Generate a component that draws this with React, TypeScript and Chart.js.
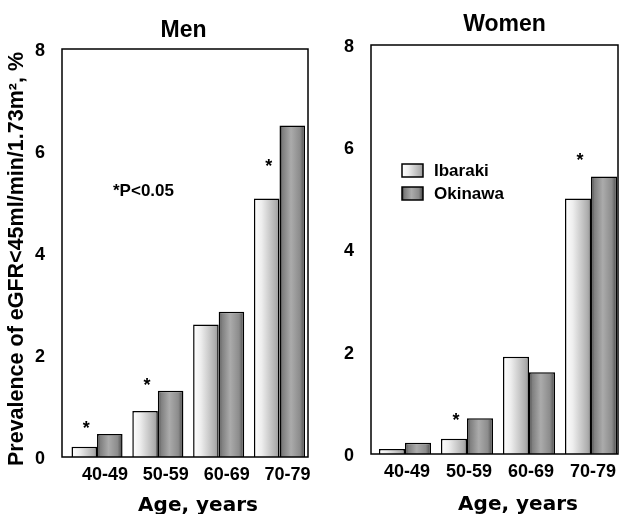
import React, { useEffect, useRef } from 'react';
import { Chart, registerables } from 'chart.js';

Chart.register(...registerables);

// ---- data ----
const ageGroups = ['40-49', '50-59', '60-69', '70-79'];
const seriesNames = ['Ibaraki', 'Okinawa'];
const menIbaraki = [0.2, 0.9, 2.6, 5.07];
const menOkinawa = [0.45, 1.3, 2.85, 6.5];
const womenIbaraki = [0.1, 0.3, 1.9, 5.0];
const womenOkinawa = [0.22, 0.7, 1.6, 5.43];
const menStarLevels = [0.65, 1.5, null, 5.8];
const womenStarLevels = [null, 0.76, null, 5.84];
const yTicks = [0, 2, 4, 6, 8];
const yTitle = 'Prevalence of eGFR<45ml/min/1.73m\u00B2, %';
const xTitle = 'Age, years';
const noteText = '*P<0.05';

const SANS = '"Liberation Sans", Arial, Helvetica, sans-serif';
const WIDE = '"DejaVu Sans", Verdana, sans-serif';
const H = 514;

function makeGrad(ctx: CanvasRenderingContext2D, x0: number, x1: number, kind: number) {
  const g = ctx.createLinearGradient(x0, 0, x1, 0);
  if (kind === 0) {
    g.addColorStop(0, '#ffffff');
    g.addColorStop(0.3, '#eeeeee');
    g.addColorStop(0.85, '#b0b0b0');
    g.addColorStop(1, '#959595');
  } else {
    g.addColorStop(0, '#343434');
    g.addColorStop(0.12, '#7e7e7e');
    g.addColorStop(0.45, '#ababab');
    g.addColorStop(0.8, '#8c8c8c');
    g.addColorStop(1, '#464646');
  }
  return g;
}

type Panel = {
  left: number;
  width: number;
  area: { left: number; right: number; top: number; bottom: number };
  xMin: number;
  xMax: number;
  labelOffset: number;
  ibaraki: number[];
  okinawa: number[];
  stars: (number | null)[];
  title: string;
  titlePos: [number, number];
  xTitlePos: [number, number];
  showYTitle: boolean;
  yTitlePos: [number, number];
  note: boolean;
  notePos: [number, number];
  legend: boolean;
  legendPos: [number, number];
};

const panels: Panel[] = [
  {
    left: 0,
    width: 312,
    area: { left: 62, right: 308, top: 49, bottom: 457 },
    xMin: -0.576,
    xMax: 3.469,
    labelOffset: 8,
    ibaraki: menIbaraki,
    okinawa: menOkinawa,
    stars: menStarLevels,
    title: 'Men',
    titlePos: [183.5, 37],
    xTitlePos: [198, 511],
    showYTitle: true,
    yTitlePos: [17, 259],
    note: true,
    notePos: [113, 191],
    legend: false,
    legendPos: [0, 0],
  },
  {
    left: 312,
    width: 308,
    area: { left: 59, right: 306, top: 45, bottom: 454 },
    xMin: -0.548,
    xMax: 3.435,
    labelOffset: 2,
    ibaraki: womenIbaraki,
    okinawa: womenOkinawa,
    stars: womenStarLevels,
    title: 'Women',
    titlePos: [192.5, 30.5],
    xTitlePos: [206, 510],
    showYTitle: false,
    yTitlePos: [0, 0],
    note: false,
    notePos: [0, 0],
    legend: true,
    legendPos: [90, 164],
  },
];

function PanelChart({ p }: { p: Panel }) {
  const ref = useRef<HTMLCanvasElement | null>(null);
  useEffect(() => {
    const canvas = ref.current;
    if (!canvas) return;
    const decorate = {
      id: 'decorate',
      beforeDatasetsDraw(chart: any) {
        const ctx = chart.ctx as CanvasRenderingContext2D;
        chart.data.datasets.forEach((_: any, di: number) => {
          const meta = chart.getDatasetMeta(di);
          meta.data.forEach((el: any) => {
            const x0 = el.x - el.width / 2;
            const x1 = el.x + el.width / 2;
            el.options.backgroundColor = makeGrad(ctx, x0, x1, di);
          });
        });
      },
      afterDatasetsDraw(chart: any) {
        const ctx = chart.ctx as CanvasRenderingContext2D;
        const a = chart.chartArea;
        const ys = chart.scales.y;
        ctx.save();
        // frame
        ctx.strokeStyle = '#000';
        ctx.lineWidth = 1.5;
        ctx.strokeRect(a.left, a.top, a.right - a.left, a.bottom - a.top);
        // significance stars
        const meta0 = chart.getDatasetMeta(0);
        ctx.fillStyle = '#000';
        ctx.font = `bold 18px ${SANS}`;
        ctx.textAlign = 'center';
        ctx.textBaseline = 'alphabetic';
        p.stars.forEach((lvl, i) => {
          if (lvl === null) return;
          const el = meta0.data[i];
          const y = ys.getPixelForValue(lvl);
          ctx.fillText('*', el.x + 2, y + 10.5);
        });
        // titles
        ctx.font = `bold 23px ${SANS}`;
        ctx.fillText(p.title, p.titlePos[0], p.titlePos[1]);
        ctx.font = `bold 20px ${WIDE}`;
        ctx.fillText(xTitle, p.xTitlePos[0], p.xTitlePos[1]);
        if (p.showYTitle) {
          ctx.save();
          ctx.translate(p.yTitlePos[0], p.yTitlePos[1]);
          ctx.rotate(-Math.PI / 2);
          ctx.font = `bold 21.5px ${SANS}`;
          ctx.textBaseline = 'middle';
          ctx.fillText(yTitle, 0, 0);
          ctx.restore();
        }
        if (p.note) {
          ctx.font = `bold 17px ${SANS}`;
          ctx.textAlign = 'left';
          ctx.textBaseline = 'middle';
          ctx.fillText(noteText, p.notePos[0], p.notePos[1]);
        }
        if (p.legend) {
          const [lx, ly] = p.legendPos;
          seriesNames.forEach((name, k) => {
            const by = ly + k * 23;
            ctx.fillStyle = makeGrad(ctx, lx, lx + 21, k);
            ctx.fillRect(lx, by, 21, 13);
            ctx.strokeStyle = '#000';
            ctx.lineWidth = 1.5;
            ctx.strokeRect(lx, by, 21, 13);
            ctx.fillStyle = '#000';
            ctx.font = `bold 17px ${SANS}`;
            ctx.textAlign = 'left';
            ctx.textBaseline = 'middle';
            ctx.fillText(name, lx + 32, by + 7.5);
          });
        }
        ctx.restore();
      },
    };
    const chart = new Chart(canvas, {
      type: 'bar',
      data: {
        datasets: [
          {
            label: seriesNames[0],
            data: p.ibaraki.map((v, i) => ({ x: i, y: v })),
            backgroundColor: () => '#dddddd',
            borderColor: '#000',
            borderWidth: 1.5,
            categoryPercentage: 0.84,
            barPercentage: 1.0,
          },
          {
            label: seriesNames[1],
            data: p.okinawa.map((v, i) => ({ x: i, y: v })),
            backgroundColor: () => '#999999',
            borderColor: '#000',
            borderWidth: 1.5,
            categoryPercentage: 0.84,
            barPercentage: 1.0,
          },
        ],
      },
      options: {
        animation: false,
        responsive: false,
        maintainAspectRatio: false,
        layout: {
          padding: {
            left: 0,
            top: p.area.top,
            right: p.width - p.area.right,
            bottom: 0,
          },
        },
        plugins: {
          legend: { display: false },
          title: { display: false },
          tooltip: { enabled: false },
        },
        scales: {
          x: {
            type: 'linear',
            offset: false,
            bounds: 'data',
            min: p.xMin,
            max: p.xMax,
            grid: { display: false },
            border: { display: false },
            afterBuildTicks: (s: any) => {
              s.ticks = ageGroups.map((_, i) => ({ value: i }));
            },
            afterFit: (s: any) => {
              s.height = H - p.area.bottom;
            },
            ticks: {
              autoSkip: false,
              maxRotation: 0,
              padding: -1,
              labelOffset: p.labelOffset,
              color: '#000',
              font: { family: SANS, size: 18, weight: 'bold' },
              callback: (v: any) => ageGroups[v as number] ?? '',
            },
          },
          y: {
            min: 0,
            max: 8,
            grid: { display: false },
            border: { display: false },
            afterBuildTicks: (s: any) => {
              s.ticks = yTicks.map((v) => ({ value: v }));
            },
            afterFit: (s: any) => {
              s.width = p.area.left;
            },
            ticks: {
              padding: 9,
              labelOffset: 2,
              color: '#000',
              font: { family: SANS, size: 18, weight: 'bold' },
            },
          },
        },
      },
      plugins: [decorate],
    } as any);
    return () => chart.destroy();
  }, [p]);
  return (
    <canvas
      ref={ref}
      width={p.width}
      height={H}
      style={{ position: 'absolute', left: p.left, top: 0, width: p.width, height: H, display: 'block' }}
    />
  );
}

export default function App() {
  return (
    <div style={{ position: 'fixed', left: 0, top: 0, width: 620, height: H, background: '#fff' }}>
      {panels.map((p) => (
        <PanelChart key={p.title} p={p} />
      ))}
    </div>
  );
}
